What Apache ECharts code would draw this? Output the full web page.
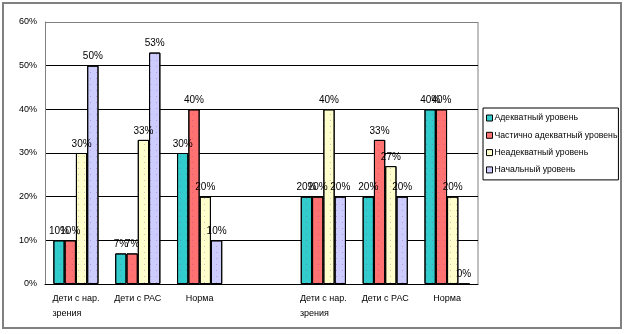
<!DOCTYPE html>
<html>
<head>
<meta charset="utf-8">
<script src="https://cdn.jsdelivr.net/npm/echarts@6/dist/echarts.min.js"></script>
<style>
html,body{margin:0;padding:0;background:#fff;}
#chart{width:625px;height:334px;}
</style>
</head>
<body>
<div id="chart"></div>
<script>
var categories = ['Дети с нар.\nзрения', 'Дети с РАС', 'Норма', '', 'Дети с нар.\nзрения', 'Дети с РАС', 'Норма'];
var seriesNames = ['Адекватный уровень', 'Частично адекватный уровень', 'Неадекватный уровень', 'Начальный уровень'];
var adequate = [10, 7, 30, null, 20, 20, 40];
var partial = [10, 7, 40, null, 20, 33, 40];
var inadequate = [30, 33, 20, null, 40, 27, 20];
var initial = [50, 53, 10, null, 20, 20, 0];
var yTicks = [0, 10, 20, 30, 40, 50, 60];

var colors = ['#33CCCC', '#FF7272', '#FFFFCC', '#CCCCFF'];
var values = [adequate, partial, inadequate, initial];
var FONT = '"Liberation Sans", Arial, sans-serif';

var chart = echarts.init(document.getElementById('chart'), null, {renderer: 'canvas'});

var series = seriesNames.map(function (name, i) {
  return {
    name: name,
    type: 'bar',
    data: values[i],
    barGap: '0%',
    barCategoryGap: '27%',
    itemStyle: {
      color: colors[i],
      borderColor: '#000',
      borderWidth: 1,
      decal: {
        symbol: 'rect',
        symbolSize: 1,
        color: 'rgba(150,60,150,0.35)',
        dashArrayX: [1, 5],
        dashArrayY: [1, 5]
      }
    },
    label: {
      show: true,
      position: 'top',
      distance: 4,
      formatter: function (p) { return p.value == null ? '' : p.value + '%'; },
      fontFamily: FONT,
      fontSize: 10,
      color: '#000'
    },
    emphasis: {disabled: true},
    animation: false
  };
});

chart.setOption({
  animation: false,
  backgroundColor: '#fff',
  grid: {left: 45, right: 147, top: 22, bottom: 50, containLabel: false},
  legend: {
    orient: 'vertical',
    left: 483,
    top: 108,
    padding: [4, 1, 4, 3],
    borderColor: '#000',
    borderWidth: 1,
    itemWidth: 6,
    itemHeight: 6,
    itemGap: 5.3,
    icon: 'rect',
    data: seriesNames,
    itemStyle: {borderColor: '#000', borderWidth: 1, decal: 'none'},
    textStyle: {fontFamily: FONT, fontSize: 8.7, color: '#000', lineHeight: 12, padding: [0, 0, 0, -3]}
  },
  xAxis: {
    type: 'category',
    data: categories,
    axisLine: {lineStyle: {color: '#000'}},
    axisTick: {show: false},
    axisLabel: {
      interval: 0,
      margin: 7,
      fontFamily: FONT,
      fontSize: 9,
      color: '#000',
      lineHeight: 15,
      formatter: function (v) {
        return v.split('\n').map(function (s) { return '{a|' + s + '}'; }).join('\n');
      },
      rich: {a: {fontFamily: FONT, fontSize: 9, color: '#000', lineHeight: 15, align: 'left'}}
    }
  },
  yAxis: {
    type: 'value',
    min: 0,
    max: 60,
    interval: 10,
    axisLine: {show: true, lineStyle: {color: '#808080'}},
    axisTick: {show: false},
    axisLabel: {
      formatter: function (v) { return v + '%'; },
      fontFamily: FONT,
      fontSize: 9,
      color: '#000',
      margin: 8
    },
    splitLine: {lineStyle: {color: ['#000', '#000', '#000', '#000', '#000', '#000', '#808080'], width: 1}}
  },
  graphic: [{
    type: 'rect',
    shape: {x: 3, y: 3, width: 618, height: 325},
    style: {fill: 'none', stroke: '#808080', lineWidth: 2},
    silent: true,
    z: 100
  }, {
    type: 'line',
    shape: {x1: 478, y1: 22, x2: 478, y2: 284},
    style: {stroke: '#808080', lineWidth: 1},
    silent: true
  }],
  series: series
});
</script>
</body>
</html>
